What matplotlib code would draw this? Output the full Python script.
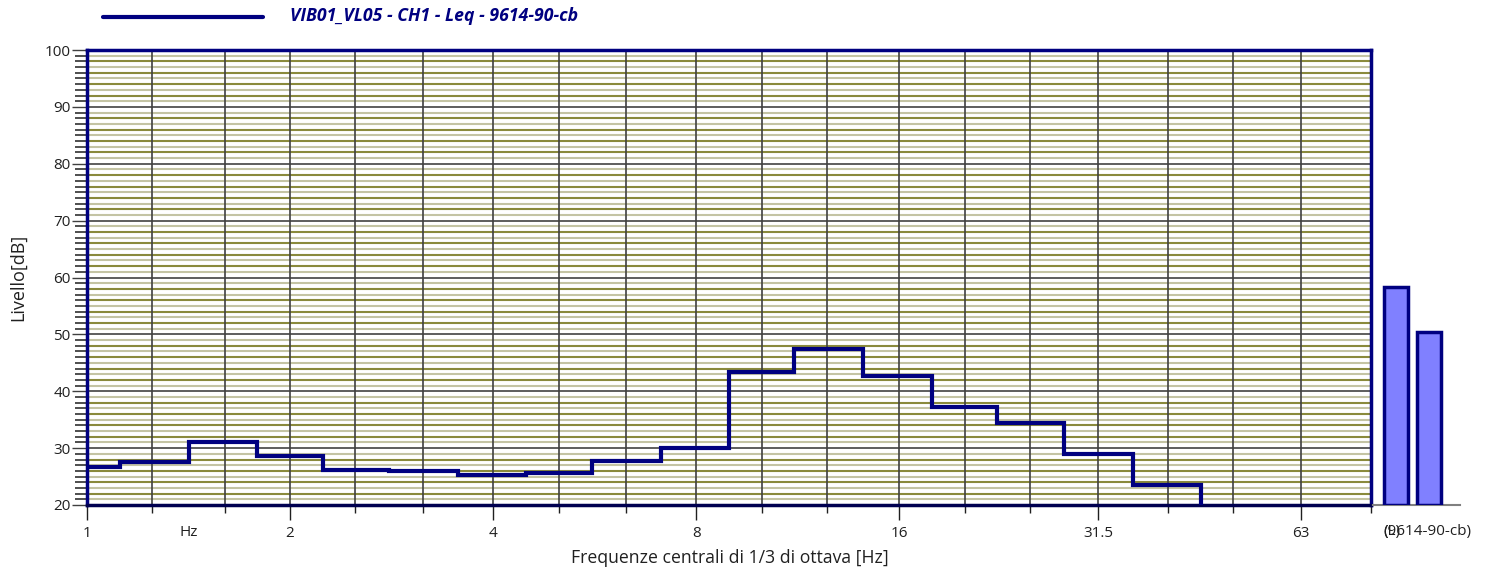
import numpy as np
import matplotlib
matplotlib.use("Agg")
import matplotlib.pyplot as plt
from matplotlib.ticker import FixedLocator, NullFormatter

plt.rcParams['font.family'] = ['Open Sans', 'DejaVu Sans']

# ---- data ----
freqs = [1, 1.25, 1.6, 2, 2.5, 3.15, 4, 5, 6.3, 8, 10, 12.5, 16, 20, 25, 31.5, 40, 50, 63, 80]
levels = [26.6, 27.6, 31.1, 28.7, 26.2, 25.9, 25.2, 25.7, 27.7, 30.0,
          43.3, 47.4, 42.6, 37.2, 34.4, 29.0, 23.5, 10.0, 10.0, 10.0]
tick_freqs = [1, 2, 4, 8, 16, 31.5, 63]
tick_labels = ["1", "2", "4", "8", "16", "31.5", "63"]
unit_label = "Hz"
total_labels = ["(L)", "(9614-90-cb)"]
total_values = [58.3, 50.4]
series_name = "VIB01_VL05 - CH1 - Leq - 9614-90-cb"

NAVY = "#000080"
W, H = 1493, 573
PT = 0.72  # points per pixel at dpi 100
fig = plt.figure(figsize=(W / 100, H / 100), dpi=100)

def rect(x0, y0, x1, y1):
    return [x0 / W, 1 - y1 / H, (x1 - x0) / W, (y1 - y0) / H]

ax = fig.add_axes(rect(87, 50, 1371, 505))
f = np.array(freqs, dtype=float)
edges = np.concatenate([[f[0] * 2 ** (-1 / 6)], np.sqrt(f[:-1] * f[1:]), [f[-1] * 2 ** (1 / 6)]])
ax.set_xscale("log")
ax.set_xlim(1, 80)
ax.set_ylim(20, 100)

# horizontal grid
for v in range(21, 100):
    if v % 10 == 0:
        ax.axhline(v, color="#505050", lw=1.3, zorder=1)
    else:
        col = "#8a8a3c" if v % 2 == 0 else "#c4c4a4"
        ax.axhline(v, color=col, lw=1.5, zorder=1)
# vertical grid
for fr in freqs[1:-1]:
    ax.axvline(fr, color="#404040", lw=1.2, zorder=1)

ax.stairs(levels, edges, color=NAVY, lw=3, zorder=3, baseline=None)

ax.xaxis.set_major_locator(FixedLocator(tick_freqs))
ax.set_xticklabels(tick_labels)
ax.xaxis.set_minor_locator(FixedLocator(freqs))
ax.xaxis.set_minor_formatter(NullFormatter())
ax.tick_params(axis="x", which="major", length=15 * PT, width=1, color="#202020", pad=4.5, labelsize=11)
ax.tick_params(axis="x", which="minor", length=8 * PT, width=1, color="#202020")
ax.set_yticks(range(20, 101, 10))
ax.set_yticks(range(20, 101, 1), minor=True)
ax.tick_params(axis="y", which="major", length=15 * PT, width=1, color="#404040", pad=1, labelsize=11)
ax.tick_params(axis="y", which="minor", length=12 * PT, width=1.2, color="#303030")
for lab in ax.get_xticklabels() + ax.get_yticklabels():
    lab.set_color("#202020")
ax.text(np.sqrt(2), -(533 - 505) / (505 - 50), unit_label, transform=ax.get_xaxis_transform(),
        fontsize=11, color="#202020", ha="center", va="center")

for s in ["left", "right", "top"]:
    ax.spines[s].set_color(NAVY)
    ax.spines[s].set_linewidth(2.5)
ax.spines["bottom"].set_color("#000050")
ax.spines["bottom"].set_linewidth(2.5)

ax.set_ylabel("Livello[dB]", fontsize=13, color="#202020")
ax.yaxis.set_label_coords(-(87 - 18) / (1371 - 87), 0.5)
ax.set_xlabel("Frequenze centrali di 1/3 di ottava [Hz]", fontsize=12.7, color="#202020")
ax.xaxis.set_label_coords((730 - 87) / (1371 - 87), -(558 - 505) / (505 - 50))
ax.xaxis.label.set_va("center")
ax.yaxis.label.set_va("center")

# totals bars
bx = fig.add_axes(rect(1373, 50, 1460, 505))
bx.set_xlim(0, 87)
bx.set_ylim(20, 100)
pos = [22.5, 56]
bx.bar(pos, np.array(total_values) - 20, bottom=20, width=24, color="#8080ff",
       edgecolor=NAVY, linewidth=2.5, zorder=3)
bx.set_xticks([])
bx.set_yticks([])
for s in ["left", "right", "top"]:
    bx.spines[s].set_visible(False)
bx.spines["bottom"].set_color("#808080")
bx.spines["bottom"].set_linewidth(1.5)
bx.patch.set_alpha(0)
for lab in total_labels:
    fig.text(1383 / W, 1 - 532 / H, lab, fontsize=11, color="#202020", ha="left", va="center")

# legend
fig.add_artist(plt.Line2D([103 / W, 263 / W], [1 - 17 / H, 1 - 17 / H], color=NAVY, lw=3,
                          solid_capstyle="round"))
fig.text(290 / W, 1 - 16 / H, series_name, fontsize=12.7, color=NAVY, fontstyle="italic",
         fontweight="bold", ha="left", va="center")

fig.savefig("out.png", dpi=100)
